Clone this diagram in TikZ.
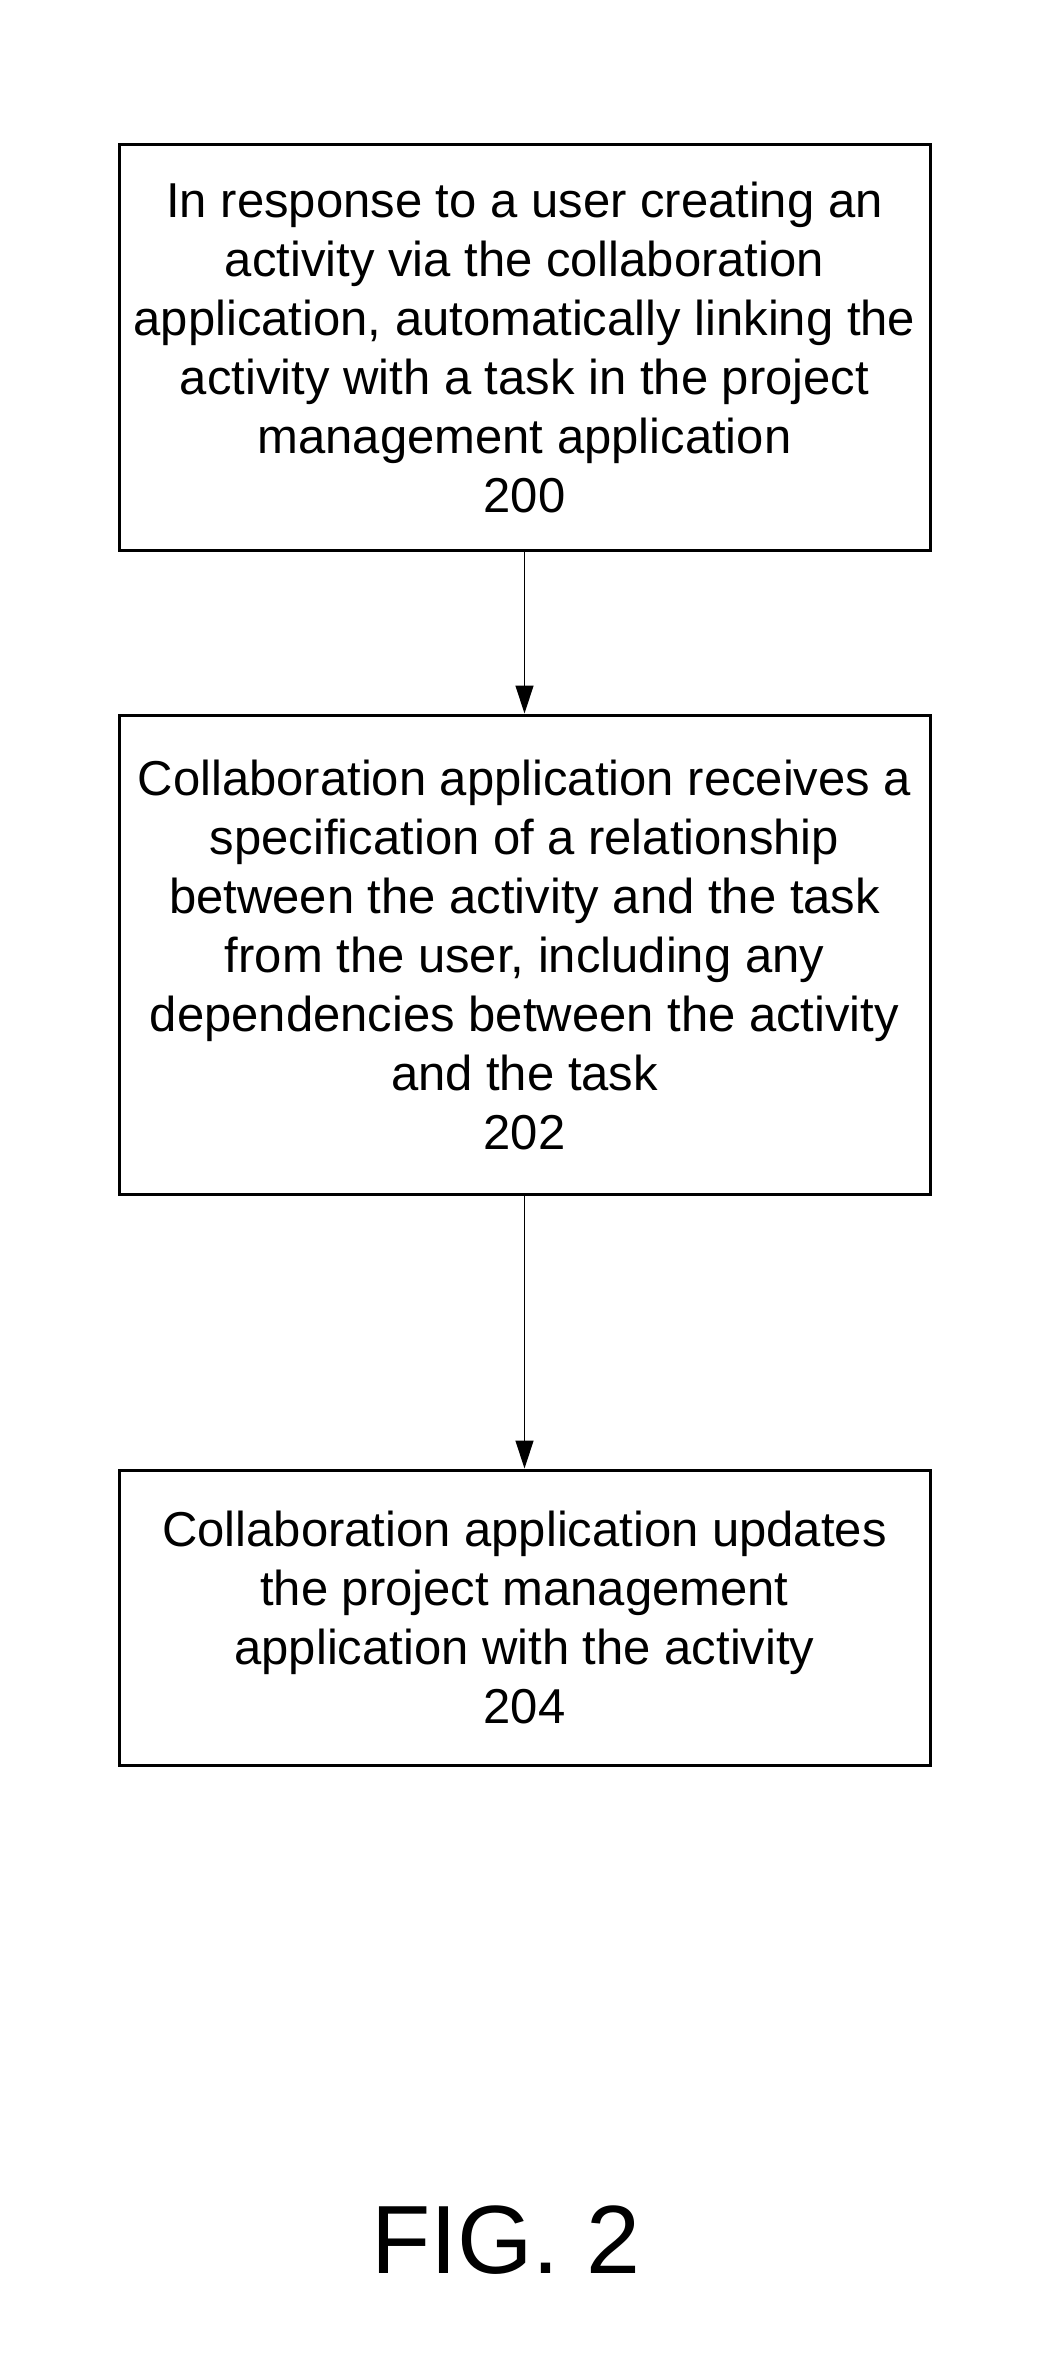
\documentclass[tikz,border=0pt]{standalone}
\usepackage{fontspec}
\setmainfont{Liberation Sans}
\usetikzlibrary{arrows.meta}
\begin{document}
\begin{tikzpicture}[x=1pt,y=-1pt,
  stepbox/.style={draw,line width=3pt,minimum width=811pt,align=center,inner sep=0pt,
    font=\fontsize{49}{59}\selectfont},
  conn/.style={line width=1.3pt,-{Triangle[length=28pt,width=18pt]}}]
\useasboundingbox (0,0) rectangle (1059,2367);
\node[stepbox,minimum height=406pt] (a) at (524.5,347) {In response to a user creating an\\activity via the collaboration\\application, automatically linking the\\activity with a task in the project\\management application\\200};
\node[stepbox,minimum height=479pt] (b) at (524.5,954.5) {Collaboration application receives a\\specification of a relationship\\between the activity and the task\\from the user, including any\\dependencies between the activity\\and the task\\202};
\node[stepbox,minimum height=295pt] (c) at (524.5,1617.5) {Collaboration application updates\\the project management\\application with the activity\\204};
\draw[conn] (a) -- (b);
\draw[conn] (b) -- (c);
\node[font=\fontsize{97}{100}\selectfont] (fig) at (506,2240) {FIG. 2};
\end{tikzpicture}
\end{document}
